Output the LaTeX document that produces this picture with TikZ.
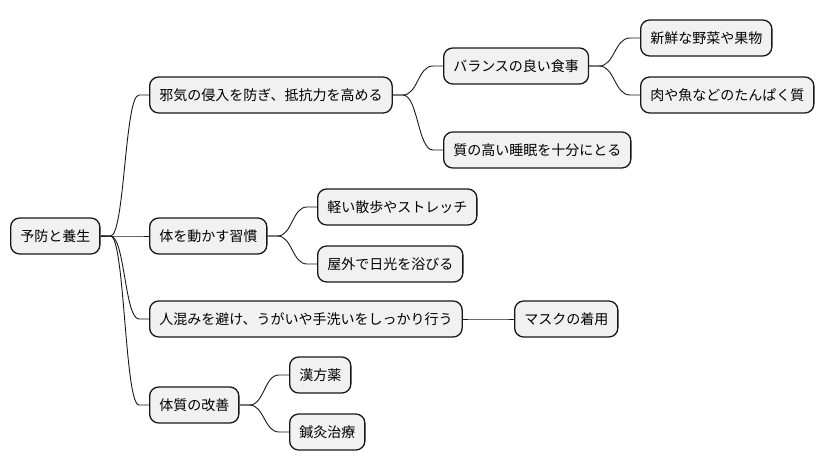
\documentclass[tikz,border=0pt]{standalone}
\usepackage{fontspec}
\newfontfamily\cjk{Noto Sans CJK JP}
\usetikzlibrary{calc}
\definecolor{nodefill}{HTML}{F1F1F1}
\definecolor{nodeline}{HTML}{181818}
\tikzset{
  mmnode/.style={draw=nodeline, fill=nodefill, line width=1.3pt, rounded corners=9pt,
    minimum height=36pt, inner xsep=9.6pt, inner ysep=0pt, anchor=west,
    font=\cjk\fontsize{14pt}{16pt}\selectfont, text=black},
  mmline/.style={draw=nodeline, line width=0.9pt}
}
\newcommand\mmlink[2]{\draw[mmline] (#1.east) -- ++(10,0)
  .. controls ($(#1.east)!0.5!(#1.east -| #2.west)$) and ($(#2.west)!0.5!(#2.west -| #1.east)$)
  .. ($(#2.west)+(-10,0)$) -- (#2.west);}
\begin{document}
\begin{tikzpicture}[x=1pt,y=-1pt]
\useasboundingbox (0,0) rectangle (824,471);
\node[mmnode] (root) at (10,236) {予防と養生};
\node[mmnode] (a1) at (149,95) {邪気の侵入を防ぎ、抵抗力を高める};
\node[mmnode] (a11) at (443,66) {バランスの良い食事};
\node[mmnode] (a111) at (640,38) {新鮮な野菜や果物};
\node[mmnode] (a112) at (640,95) {肉や魚などのたんぱく質};
\node[mmnode] (a12) at (443,150) {質の高い睡眠を十分にとる};
\node[mmnode] (a2) at (149,236) {体を動かす習慣};
\node[mmnode] (a21) at (317,207) {軽い散歩やストレッチ};
\node[mmnode] (a22) at (317,264) {屋外で日光を浴びる};
\node[mmnode] (a3) at (149,319) {人混みを避け、うがいや手洗いをしっかり行う};
\node[mmnode] (a31) at (514,319) {マスクの着用};
\node[mmnode] (a4) at (149,405) {体質の改善};
\node[mmnode] (a41) at (289,375) {漢方薬};
\node[mmnode] (a42) at (289,432) {鍼灸治療};
\mmlink{root}{a1}
\mmlink{root}{a2}
\mmlink{root}{a3}
\mmlink{root}{a4}
\mmlink{a1}{a11}
\mmlink{a1}{a12}
\mmlink{a11}{a111}
\mmlink{a11}{a112}
\mmlink{a2}{a21}
\mmlink{a2}{a22}
\mmlink{a3}{a31}
\mmlink{a4}{a41}
\mmlink{a4}{a42}
\end{tikzpicture}
\end{document}
